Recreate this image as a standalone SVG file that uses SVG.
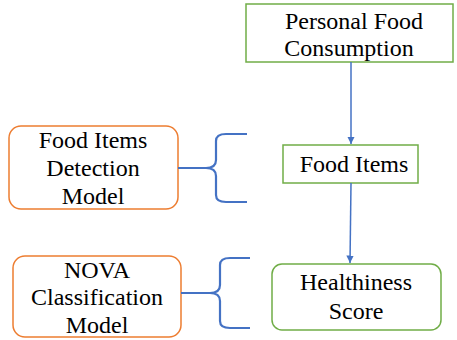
<svg xmlns="http://www.w3.org/2000/svg" width="457" height="340" viewBox="0 0 457 340">
  <style>
    text { font-family: 'Liberation Serif', 'Times New Roman', serif; font-size: 24px; fill: #000; text-anchor: middle; }
    .green { fill: #fff; stroke: #70AD47; stroke-width: 1.5; }
    .orange { fill: #fff; stroke: #ED7D31; stroke-width: 1.5; }
    .link { fill: none; stroke: #4472C4; stroke-width: 1.5; }
    .brace { fill: none; stroke: #4472C4; stroke-width: 2.2; stroke-linejoin: round; }
  </style>
  <defs>
    <marker id="arrow" viewBox="0 0 10 10" refX="10" refY="5" markerWidth="5" markerHeight="5" orient="auto" markerUnits="strokeWidth">
      <path d="M0,0 L10,5 L0,10 z" fill="#4472C4"/>
    </marker>
  </defs>
  <rect width="457" height="340" fill="#fff"/>

  <g id="personal-food-consumption">
    <rect class="green" x="246" y="4" width="207" height="58"/>
    <text x="354" y="29">Personal Food</text>
    <text x="349" y="56">Consumption</text>
  </g>

  <g id="food-items">
    <rect class="green" x="283" y="145" width="135" height="38"/>
    <text x="354" y="172">Food Items</text>
  </g>

  <g id="healthiness-score">
    <rect class="green" x="272" y="264" width="169" height="66" rx="10" ry="10"/>
    <text x="356" y="290">Healthiness</text>
    <text x="356" y="319">Score</text>
  </g>

  <g id="food-items-detection-model">
    <rect class="orange" x="9" y="126" width="169" height="83" rx="12" ry="12"/>
    <text x="93" y="148">Food Items</text>
    <text x="93" y="176">Detection</text>
    <text x="93" y="204">Model</text>
  </g>

  <g id="nova-classification-model">
    <rect class="orange" x="13" y="256" width="168" height="81" rx="12" ry="12"/>
    <text x="97" y="278">NOVA</text>
    <text x="97" y="305">Classification</text>
    <text x="97" y="333">Model</text>
  </g>

  <g id="connectors">
    <line class="link" x1="351" y1="62" x2="351" y2="144" marker-end="url(#arrow)"/>
    <line class="link" x1="351" y1="183" x2="350" y2="263" marker-end="url(#arrow)"/>
    <!-- braces joining each model to the step it drives -->
    <path class="brace" d="M178,168 L206,168 Q216,168 216,160 L216,141 Q216,134 226,134 L247,134 M206,168 Q216,168 216,176 L216,195 Q216,202 226,202 L247,202"/>
    <path class="brace" d="M181,293 L210,293 Q220,293 220,285 L220,265 Q220,258 230,258 L250,258 M210,293 Q220,293 220,301 L220,321 Q220,328 230,328 L250,328"/>
  </g>
</svg>
